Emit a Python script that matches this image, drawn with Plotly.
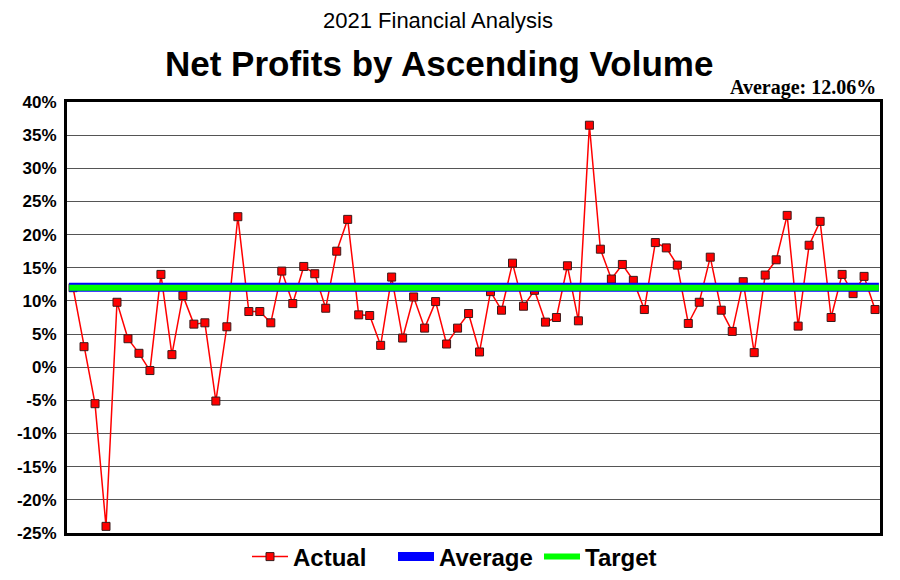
import plotly.graph_objects as go

# ---- data ----
positions = list(range(1, 75))
actual = [12.0, 3.1, -5.5, -24.0, 9.8, 4.3, 2.1, -0.5, 14.0, 1.9,
          10.8, 6.5, 6.7, -5.1, 6.1, 22.7, 8.4, 8.4, 6.7, 14.5,
          9.6, 15.2, 14.1, 8.9, 17.5, 22.3, 7.9, 7.8, 3.3, 13.6,
          4.4, 10.6, 5.9, 9.9, 3.5, 5.9, 8.1, 2.3, 11.4, 8.6,
          15.7, 9.2, 11.6, 6.8, 7.5, 15.3, 7.0, 36.5, 17.8, 13.3,
          15.5, 13.1, 8.7, 18.8, 18.0, 15.4, 6.6, 9.8, 16.6, 8.6,
          5.4, 12.9, 2.2, 13.9, 16.2, 22.9, 6.2, 18.4, 22.0, 7.5,
          14.0, 11.1, 13.7, 8.7]
average_value = 12.06
target_value = 12.0
y_ticks = [-25, -20, -15, -10, -5, 0, 5, 10, 15, 20, 25, 30, 35, 40]
y_tick_text = [f"{v}%" for v in y_ticks]

pad = 0.35
line_x = [positions[0] - pad, positions[-1] + pad]

ML, MR = 67, 20
PW = 900 - ML - MR

def px_to_paper(px):
    return (px - ML) / PW

fig = go.Figure()
fig.add_trace(go.Scatter(
    x=positions, y=actual, name="Actual", mode="lines+markers",
    line=dict(color="#ff0000", width=1.5),
    marker=dict(symbol="square", size=8, color="#ff0000",
                line=dict(color="#3a1a1a", width=1)),
))
fig.add_trace(go.Scatter(
    x=line_x, y=[average_value, average_value], name="Average", mode="lines",
    line=dict(color="#0000ff", width=9),
))
fig.add_trace(go.Scatter(
    x=line_x, y=[target_value, target_value], name="Target", mode="lines",
    line=dict(color="#00ff00", width=6),
))

fig.update_layout(
    width=900, height=580,
    margin=dict(l=ML, r=MR, t=102, b=47, autoexpand=False),
    paper_bgcolor="white", plot_bgcolor="white",
    font=dict(family="Liberation Sans, Arial, sans-serif", color="black"),
    showlegend=True,
    legend=dict(orientation="h", x=247 / 900, xref="container", xanchor="left",
                y=23 / 580, yref="container", yanchor="middle",
                bgcolor="rgba(0,0,0,0)",
                font=dict(size=24, weight="bold", family="Liberation Sans, Arial"),
                itemwidth=36, entrywidth=95, tracegroupgap=0, traceorder="normal"),
)
fig.add_annotation(text="2021 Financial Analysis", x=px_to_paper(438), xref="paper", y=1, yref="paper",
                   yanchor="middle", yshift=82, showarrow=False,
                   font=dict(size=22, family="Liberation Sans, Arial", color="black"))
fig.add_annotation(text="<b>Net Profits by Ascending Volume</b>", x=px_to_paper(438.5), xref="paper", y=1,
                   yref="paper", yanchor="middle", yshift=39, showarrow=False,
                   font=dict(size=35, family="Liberation Sans, Arial", color="black"))
fig.add_annotation(text=f"<b>Average: {average_value:.2f}%</b>", x=1, xref="paper", xanchor="right",
                   y=1, yref="paper", yanchor="middle", yshift=15, xshift=-2, showarrow=False,
                   font=dict(size=20, family="Liberation Serif, Times New Roman, serif", color="black"))

fig.update_xaxes(range=[positions[0] - 0.55, positions[-1] + 0.45],
                 showticklabels=False, showgrid=False, zeroline=False,
                 showline=True, linecolor="black", linewidth=3, mirror=True, ticks="")
fig.update_yaxes(range=[-25, 40], tickvals=y_ticks, ticktext=y_tick_text,
                 showgrid=True, gridcolor="#555555", gridwidth=1, zeroline=False,
                 showline=True, linecolor="black", linewidth=3, mirror=True,
                 ticks="", ticklabelstandoff=4,
                 tickfont=dict(size=17, weight="bold", family="Liberation Sans, Arial", color="black"))

fig.write_html("out.html")
